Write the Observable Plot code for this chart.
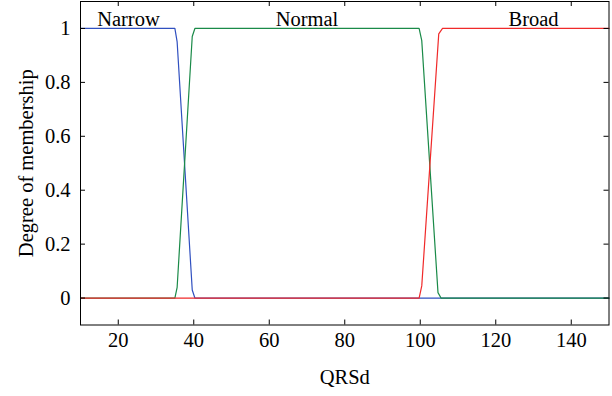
<!DOCTYPE html>
<html>
<head>
<meta charset="utf-8">
<script src="https://cdn.jsdelivr.net/npm/d3@7"></script>
<script src="https://cdn.jsdelivr.net/npm/@observablehq/plot@0.6"></script>
<style>
  html, body { margin: 0; padding: 0; background: #fff; }
  svg { display: block; }
</style>
</head>
<body>
<div id="chart"></div>
<script>
// Membership functions (QRSd vs degree of membership)
const narrowX = [10, 35, 35.6, 39.6, 40.3, 150];
const narrowY = [1, 1, 0.95, 0.03, 0, 0];
const normalX = [10, 35, 35.6, 39.6, 40.3, 99.7, 100.4, 104.7, 105.5, 150];
const normalY = [0, 0, 0.04, 0.97, 1, 1, 0.955, 0.02, 0, 0];
const broadX = [10, 99.7, 100.4, 104.9, 105.9, 150];
const broadY = [0, 0, 0.045, 0.98, 1, 1];

const seriesNames = ["Narrow", "Normal", "Broad"];
const seriesColors = ["#3050c0", "#1a8a48", "#f02a2a"];
const labelX = [22.7, 70, 130];

const xTicks = [20, 40, 60, 80, 100, 120, 140];
const yTicks = [0, 0.2, 0.4, 0.6, 0.8, 1];

const xTitle = "QRSd";
const yTitle = "Degree of membership";

// build tables
const xs = [narrowX, normalX, broadX];
const ys = [narrowY, normalY, broadY];
const rows = [];
seriesNames.forEach((name, i) => {
  xs[i].forEach((x, j) => rows.push({series: name, x, y: ys[i][j]}));
});
const labels = seriesNames.map((name, i) => ({name, x: labelX[i]}));

const W = 612, H = 396;
const mT = 1, mB = 71.5, mL = 80, mR = 3.5;
const fh = H - mT - mB, fw = W - mL - mR;
const tick = 5;
const fs = 20.5;
const font = "Liberation Serif, Times New Roman, serif";

const plot = Plot.plot({
  width: W,
  height: H,
  marginTop: mT,
  marginBottom: mB,
  marginLeft: mL,
  marginRight: mR,
  style: {fontFamily: font, fontSize: fs + "px", color: "#000", background: "#fff"},
  x: {domain: [10, 150]},
  y: {domain: [-0.1, 1.1]},
  color: {domain: seriesNames, range: seriesColors},
  marks: [
    Plot.line(rows, {x: "x", y: "y", z: "series", stroke: "series", strokeWidth: 1.2}),
    Plot.frame({stroke: "#000", strokeWidth: 1}),
    // inward ticks on all four sides
    Plot.tickX(xTicks, {x: d => d, insetTop: fh - tick, stroke: "#000"}),
    Plot.tickX(xTicks, {x: d => d, insetBottom: fh - tick, stroke: "#000"}),
    Plot.tickY(yTicks, {y: d => d, insetRight: fw - tick, stroke: "#000"}),
    Plot.tickY(yTicks, {y: d => d, insetLeft: fw - tick, stroke: "#000"}),
    Plot.axisX(xTicks, {tickSize: 0, tickPadding: 7.5, label: null, fontSize: fs}),
    Plot.axisY(yTicks, {tickSize: 0, tickPadding: 10, label: null, fontSize: fs, tickFormat: d => String(d)}),
    Plot.text(labels, {x: "x", y: () => 1, text: "name", dy: -9.5, lineAnchor: "middle", fontSize: fs, fill: "#000"}),
    Plot.text([xTitle], {frameAnchor: "bottom", text: d => d, dy: 52, lineAnchor: "middle", fontSize: fs, fill: "#000"}),
    Plot.text([yTitle], {frameAnchor: "left", text: d => d, rotate: -90, dx: -54, textAnchor: "middle", lineAnchor: "middle", fontSize: fs, fill: "#000"})
  ]
});
document.getElementById("chart").appendChild(plot);
</script>
</body>
</html>
